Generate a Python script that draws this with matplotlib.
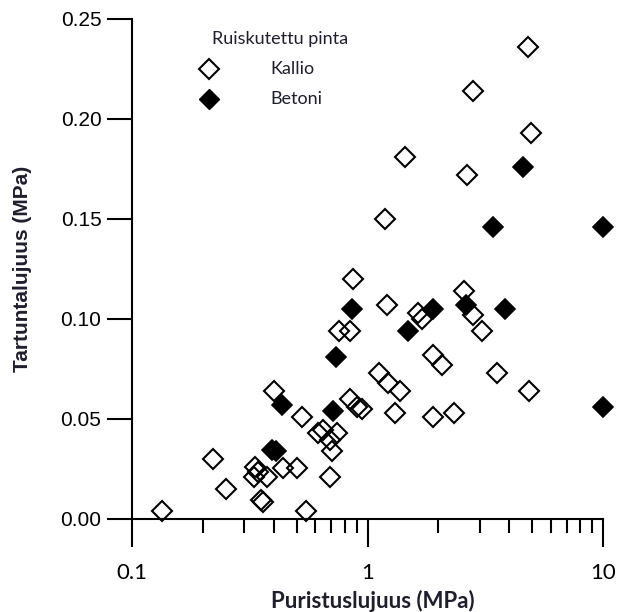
import matplotlib
matplotlib.use('Agg')

import matplotlib.pyplot as plt
from matplotlib.ticker import FixedLocator, LogLocator, NullFormatter

# Kallio (open diamonds): compressive strength (MPa), bond strength (MPa)
kallio_x = [4.79, 2.81, 4.93, 1.44, 2.64, 1.19, 0.87, 2.57, 2.80, 3.05,
            1.21, 1.64, 1.70, 0.76, 0.84, 1.90, 2.07, 3.56, 4.85, 1.12,
            1.22, 1.37, 1.31, 1.89, 2.33, 0.84, 0.90, 0.945, 0.40, 0.527,
            0.618, 0.649, 0.693, 0.740, 0.705, 0.693, 0.50, 0.436, 0.333, 0.329,
            0.373, 0.221, 0.251, 0.134, 0.548, 0.361, 0.353, 0.344]
kallio_y = [0.236, 0.214, 0.193, 0.181, 0.172, 0.150, 0.120, 0.114, 0.102, 0.094,
            0.107, 0.103, 0.100, 0.094, 0.094, 0.082, 0.077, 0.073, 0.064, 0.073,
            0.068, 0.064, 0.053, 0.051, 0.053, 0.060, 0.056, 0.055, 0.064, 0.051,
            0.043, 0.0445, 0.0395, 0.043, 0.034, 0.021, 0.0253, 0.0253, 0.026, 0.021,
            0.021, 0.030, 0.015, 0.0042, 0.0042, 0.0087, 0.0095, 0.0237]

# Betoni (filled diamonds)
betoni_x = [4.59, 3.40, 10.0, 2.61, 3.84, 1.89, 1.49, 0.857, 0.735, 0.711,
            0.432, 0.392, 0.41, 10.0]
betoni_y = [0.176, 0.146, 0.146, 0.107, 0.105, 0.105, 0.094, 0.105, 0.081, 0.054,
            0.057, 0.0345, 0.034, 0.056]

yticks = [0.00, 0.05, 0.10, 0.15, 0.20, 0.25]
xticks = [0.1, 1, 10]
xticklabels = ['0.1', '1', '10']

text_col = '#1e1e2e'

fig = plt.figure(figsize=(6.17, 6.12), dpi=100)
ax = fig.add_axes([132 / 617, 93 / 612, 471 / 617, 500 / 612])

ax.plot(betoni_x, betoni_y, 'D', ms=10.5, color='black', mew=1.2,
        linestyle='none', clip_on=False, zorder=3)
ax.plot(kallio_x, kallio_y, 'D', ms=9.8, mfc='none', mec='black', mew=1.5,
        linestyle='none', clip_on=False, zorder=4)

ax.set_xscale('log')
ax.set_xlim(0.1, 10)
ax.set_ylim(0, 0.25)

for s in ['top', 'right']:
    ax.spines[s].set_visible(False)
for s in ['left', 'bottom']:
    ax.spines[s].set_linewidth(1.5)

ax.xaxis.set_major_locator(FixedLocator(xticks))
ax.set_xticklabels(xticklabels, fontfamily='Lato', fontsize=16)
ax.xaxis.set_minor_locator(LogLocator(base=10, subs=range(2, 10)))
ax.xaxis.set_minor_formatter(NullFormatter())
ax.set_yticks(yticks)
ax.set_yticklabels(['%.2f' % v for v in yticks], fontfamily='Liberation Sans', fontsize=15)

ax.tick_params(axis='y', which='major', direction='out', length=18, width=1.5, pad=4)
ax.tick_params(axis='x', which='major', direction='out', length=20, width=1.5, pad=12)
ax.tick_params(axis='x', which='minor', direction='out', length=10, width=1.5)

ax.set_ylabel('Tartuntalujuus (MPa)', fontfamily='Liberation Sans', fontweight='bold',
              fontsize=15, color=text_col)
ax.yaxis.set_label_coords(-0.212, 0.5)
ax.set_xlabel('Puristuslujuus (MPa)', fontfamily='Lato', fontweight='bold',
              fontsize=16, color=text_col)
ax.xaxis.set_label_coords(0.512, -0.142)

# legend drawn by hand
ax.text(0.170, 0.960, 'Ruiskutettu pinta', transform=ax.transAxes, fontfamily='Lato',
        fontsize=13, color=text_col, va='center', ha='left')
ax.plot([0.1635], [0.900], 'D', ms=9.8, mfc='none', mec='black', mew=1.5,
        transform=ax.transAxes, clip_on=False)
ax.plot([0.1635], [0.840], 'D', ms=10.5, color='black', transform=ax.transAxes,
        clip_on=False)
ax.text(0.293, 0.900, 'Kallio', transform=ax.transAxes, fontfamily='Lato',
        fontsize=13, color=text_col, va='center', ha='left')
ax.text(0.293, 0.840, 'Betoni', transform=ax.transAxes, fontfamily='Lato',
        fontsize=13, color=text_col, va='center', ha='left')

plt.savefig('out.png', dpi=100)
